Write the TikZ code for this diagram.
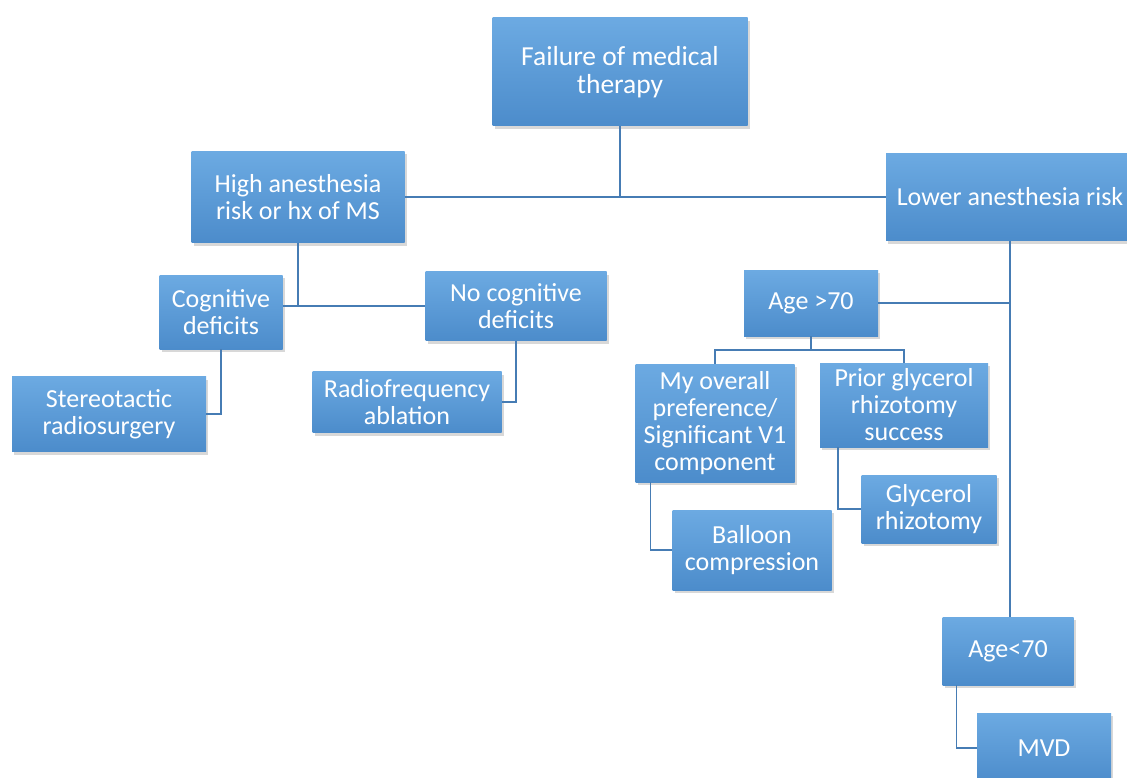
\documentclass[tikz,border=0pt]{standalone}
\usepackage{fontspec}
\setsansfont{Carlito}
\usepackage{xcolor}
\usetikzlibrary{shadows}

\definecolor{boxtop}{RGB}{108,170,226}
\definecolor{boxbot}{RGB}{76,140,203}
\definecolor{linkblue}{RGB}{70,124,180}

\tikzset{
  box/.style={top color=boxtop, bottom color=boxbot, text=white, align=center,
    inner sep=0pt, font=\sffamily\fontsize{26}{27}\selectfont,
    drop shadow={opacity=0.3, shadow xshift=2pt, shadow yshift=-3pt}},
  link/.style={draw=linkblue, line width=1.6pt}
}

\begin{document}
\begin{tikzpicture}[x=1pt, y=-1pt]

\useasboundingbox (0,0) rectangle (1127,778);
\fill [white] (0,0) rectangle (1127,778);
\clip (0,0) rectangle (1127,778);

% Top level
\node[box, minimum width=255pt, minimum height=108pt, font=\sffamily\fontsize{27.5}{28}\selectfont] (fail) at (620,72) {Failure of medical\\therapy};

% Anesthesia risk
\node[box, minimum width=213pt, minimum height=91pt] (high) at (298,197) {High anesthesia\\risk or hx of MS};
\node[box, minimum width=248pt, minimum height=87pt] (low) at (1010,197) {Lower anesthesia risk};

% High risk branch
\node[box, minimum width=123pt, minimum height=74pt] (cog) at (221,312) {Cognitive\\deficits};
\node[box, minimum width=181pt, minimum height=69pt] (nocog) at (516,306) {No cognitive\\deficits};
\node[box, minimum width=194pt, minimum height=75pt] (stereo) at (109,414) {Stereotactic\\radiosurgery};
\node[box, minimum width=189pt, minimum height=61pt] (rf) at (407,402) {Radiofrequency\\ablation};

% Lower risk branch
\node[box, minimum width=134pt, minimum height=66pt] (old) at (811,303) {Age >70};
\node[box, minimum width=159pt, minimum height=118pt] (pref) at (715,423) {My overall\\preference/\\Significant V1\\component};
\node[box, minimum width=168pt, minimum height=84pt] (prior) at (904,405) {Prior glycerol\\rhizotomy\\success};
\node[box, minimum width=135pt, minimum height=68pt] (glyc) at (929,509) {Glycerol\\rhizotomy};
\node[box, minimum width=159pt, minimum height=80pt] (balloon) at (752,550) {Balloon\\compression};
\node[box, minimum width=131pt, minimum height=68pt] (young) at (1008,651) {Age<70};
\node[box, minimum width=134pt, minimum height=70pt] (mvd) at (1044,748) {MVD};

% Connectors
\draw[link] (fail.south) -- (fail.south |- high.east);
\draw[link] (high.east) -- (low.west);
\draw[link] (high.south) -- (high.south |- nocog.west);
\draw[link] (cog.east |- nocog.west) -- (nocog.west);
\draw[link] (cog.south) |- (stereo.east);
\draw[link] (nocog.south) |- (rf.east);
\draw[link] (low.south) -- (low.south |- young.north);
\draw[link] (old.east) -- (old.east -| low.south);
\draw[link] (old.south) -- ([yshift=-14pt]old.south);
\draw[link] (pref.north) |- ([yshift=-14pt]old.south) -| (prior.north);
\draw[link] ([xshift=18pt]prior.south west) |- (glyc.west);
\draw[link] ([xshift=15pt]pref.south west) |- (balloon.west);
\draw[link] ([xshift=14pt]young.south west) |- (mvd.west);

\end{tikzpicture}
\end{document}
